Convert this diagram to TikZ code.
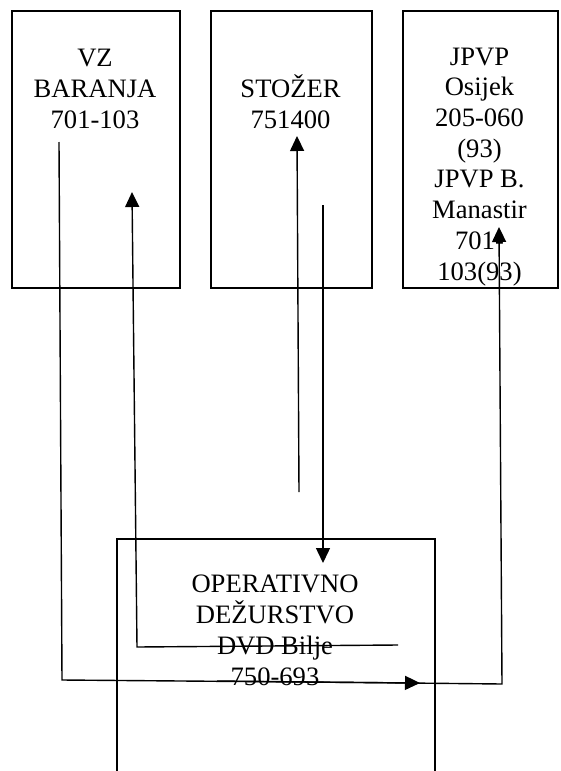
\documentclass[tikz,border=0pt]{standalone}
\usepackage{fontspec}
\setmainfont{Liberation Serif}
\usetikzlibrary{arrows.meta}

\begin{document}
\begin{tikzpicture}[x=1pt, y=-1pt, >={Triangle[length=15pt,width=14pt]},
  box/.style={draw, line width=2pt, anchor=north west, inner sep=0pt},
  label/.style={align=center, anchor=base, inner sep=0pt, font=\fontsize{26.6}{30.7}\selectfont},
  link/.style={line width=1.4pt}]
  \useasboundingbox (0,0) rectangle (560,771);

  % Boxes
  \node[box, minimum width=168pt, minimum height=277pt] (baranja) at (11,10) {};
  \node[box, minimum width=161pt, minimum height=277pt] (stozer) at (210,10) {};
  \node[box, minimum width=155pt, minimum height=277pt] (jpvp) at (402,10) {};
  \node[box, minimum width=318pt, minimum height=260pt] (dezurstvo) at (116,538) {};

  % Texts
  \node[label] (baranjatxt) at (95,128) {VZ\\BARANJA\\701-103};
  \node[label] (stozertxt) at (290.5,128) {STOŽER\\751400};
  \node[label] (jpvptxt) at (479.5,280) {JPVP\\Osijek\\205-060\\(93)\\JPVP B.\\Manastir\\701-\\103(93)};
  \node[label] (dezurstvotxt) at (275,685) {OPERATIVNO\\DEŽURSTVO\\DVD Bilje\\750-693};

  % Line ends
  \coordinate (vzout) at (59,142);
  \coordinate (vzcorner) at (62,680);
  \coordinate (opin) at (420,683);
  \coordinate (opout) at (217,681);
  \coordinate (jpcorner) at (502,684);
  \coordinate (jpin) at (499,227);
  \coordinate (opback) at (398,645);
  \coordinate (vzcorner2) at (137,647);
  \coordinate (vzin) at (132,192);
  \coordinate (stfrom) at (299,492);
  \coordinate (stin) at (297,136);
  \coordinate (stout) at (323,205);
  \coordinate (opdown) at (323,563);

  % Arrows
  \draw[link, ->] (vzout) -- (vzcorner) -- (opin);
  \draw[link, ->] (opout) -- (jpcorner) -- (jpin);
  \draw[link, ->] (opback) -- (vzcorner2) -- (vzin);
  \draw[link, ->] (stfrom) -- (stin);
  \draw[link, ->] (stout) -- (opdown);
\end{tikzpicture}
\end{document}
